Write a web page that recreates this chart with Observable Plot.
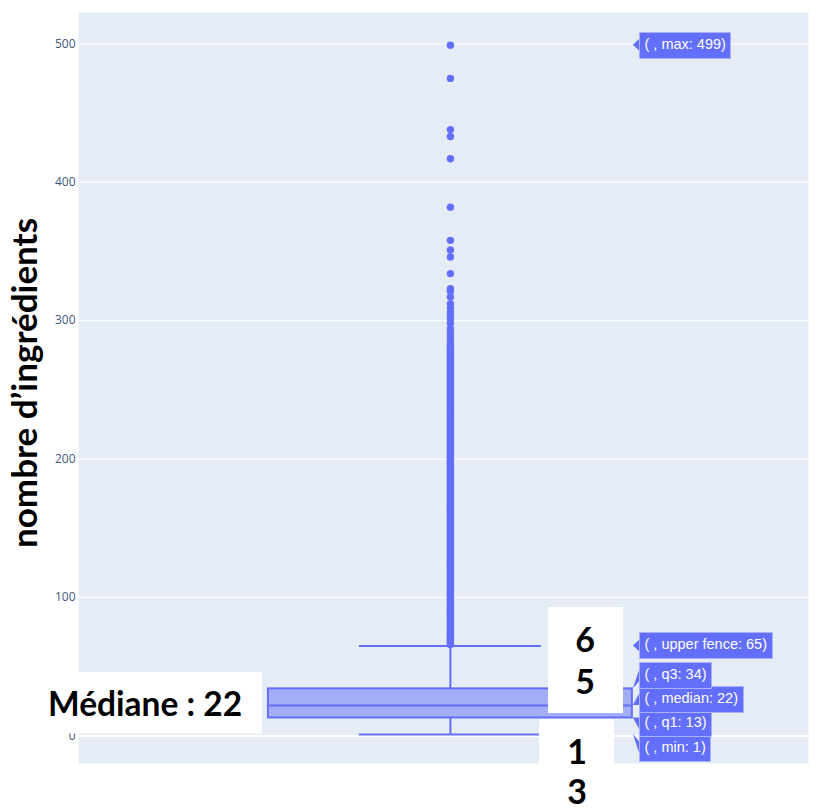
<!DOCTYPE html>
<html><head><meta charset="utf-8">
<script src="https://cdn.jsdelivr.net/npm/d3@7"></script>
<script src="https://cdn.jsdelivr.net/npm/@observablehq/plot@0.6"></script>
<style>
body{margin:0;background:#fff;}
#chart{position:relative;width:817px;height:811px;}
g[aria-label="tip"] text{fill:#fff;stroke:none;font-size:14.5px;}
</style></head><body><div id="chart"></div>
<script>
// ---- data ----
const statNames = ["min", "q1", "median", "q3", "upper fence", "max"];
const statValues = [1, 13, 22, 34, 65, 499];
const outliers = [
  66,67,68,69,70,71,72,73,74,75,76,77,78,79,80,81,82,83,84,85,
  86,87,88,89,90,91,92,93,94,95,96,97,98,99,100,101,102,103,104,105,
  106,107,108,109,110,111,112,113,114,115,116,117,118,119,120,121,122,123,124,125,
  126,127,128,129,130,131,132,133,134,135,136,137,138,139,140,141,142,143,144,145,
  146,147,148,149,150,151,152,153,154,155,156,157,158,159,160,161,162,163,164,165,
  166,167,168,169,170,171,172,173,174,175,176,177,178,179,180,181,182,183,184,185,
  186,187,188,189,190,191,192,193,194,195,196,197,198,199,200,201,202,203,204,205,
  206,207,208,209,210,211,212,213,214,215,216,217,218,219,220,221,222,223,224,225,
  226,227,228,229,230,231,232,233,234,235,236,237,238,239,240,241,242,243,244,245,
  246,247,248,249,250,251,252,253,254,255,256,257,258,259,260,261,262,263,264,265,
  266,267,268,269,270,271,272,273,274,275,276,277,278,279,280,281,282,
  284,286,289,292,294,298,301,303,306,309,312,317,321,323,334,346,351,358,382,417,433,438,475,499
];
const yTicks = [0, 100, 200, 300, 400, 500];
const yTitle = "nombre d’ingrédients";
const medianNote = "Médiane : 22";
const fenceNote = ["6", "5"];
const q1Note = ["1", "3"];

// ---- layout ----
const W = 817, H = 811;
const mL = 78, mR = 9, mT = 12, mB = 48;
const yDomain = [-19.9, 522.6];
const xDomain = [-0.511, 0.492];
const boxHalf = 0.25, capHalf = 0.125;
const blue = "#636efa";
const ppu = (H - mT - mB) / (yDomain[1] - yDomain[0]);
const ppx = (W - mL - mR) / (xDomain[1] - xDomain[0]);
const labelStep = 24.3 / ppu;

const stat = Object.fromEntries(statNames.map((n, i) => [n, statValues[i]]));

// dodge hover-label positions like Plotly does
function dodge(vals, step) {
  let groups = vals.map((v, i) => ({items: [i], center: v})).sort((a, b) => b.center - a.center);
  let merged = true;
  while (merged) {
    merged = false;
    for (let i = 0; i < groups.length - 1; i++) {
      const a = groups[i], b = groups[i + 1];
      const aBottom = a.center - (a.items.length - 1) / 2 * step;
      const bTop = b.center + (b.items.length - 1) / 2 * step;
      if (aBottom - bTop < step) {
        const items = [...a.items, ...b.items].sort((p, q) => vals[q] - vals[p]);
        groups.splice(i, 2, {items, center: d3.mean(items, k => vals[k])});
        merged = true;
        break;
      }
    }
  }
  const pos = new Array(vals.length);
  for (const g of groups) g.items.forEach((k, j) => pos[k] = g.center + ((g.items.length - 1) / 2 - j) * step);
  return pos;
}
const labelY = dodge(statValues, labelStep);
const tipX = boxHalf + 1 / ppx, baseX = boxHalf + 7 / ppx;
const labels = statNames.map((n, i) => ({name: n, value: statValues[i], y: labelY[i], text: `( , ${n}: ${statValues[i]})`}));
const arrows = labels.flatMap(l => [
  {name: l.name, x: tipX, y1: l.value, y2: l.value},
  {name: l.name, x: baseX + 0.5 / ppx, y1: l.y - 6 / ppu, y2: l.y + 6 / ppu}
]);
const whiskers = [{y1: stat.q3, y2: stat["upper fence"]}, {y1: stat.min, y2: stat.q1}];

const plot = Plot.plot({
  width: W, height: H,
  marginLeft: mL, marginRight: mR, marginTop: mT, marginBottom: mB,
  style: {fontFamily: "'Open Sans', sans-serif", background: "transparent"},
  x: {domain: xDomain, axis: null},
  y: {domain: yDomain, axis: null},
  marks: [
    Plot.frame({fill: "#e5ecf6", stroke: null}),
    Plot.gridY(yTicks.filter(d => d !== 0), {stroke: "#fff", strokeOpacity: 1, strokeWidth: 1}),
    Plot.ruleY([0], {stroke: "#fff", strokeWidth: 2}),
    Plot.axisY(yTicks, {tickSize: 0, tickPadding: 3, fontSize: 12, fill: "#44587a", label: null}),
    Plot.ruleX(whiskers, {x: () => 0, y1: "y1", y2: "y2", stroke: blue, strokeWidth: 2}),
    Plot.ruleY([stat["upper fence"], stat.min], {x1: () => -capHalf, x2: () => capHalf, y: d => d, stroke: blue, strokeWidth: 2}),
    Plot.rect([stat], {x1: () => -boxHalf, x2: () => boxHalf, y1: "q1", y2: "q3", fill: blue, fillOpacity: 0.5, stroke: blue, strokeWidth: 2}),
    Plot.ruleY([stat.median], {x1: () => -boxHalf, x2: () => boxHalf, y: d => d, stroke: blue, strokeWidth: 2}),
    Plot.dot(outliers, {x: () => 0, y: d => d, r: 3.7, fill: blue, stroke: null}),
    Plot.areaY(arrows, {x: "x", y1: "y1", y2: "y2", z: "name", fill: blue}),
    Plot.tip(labels, {x: () => baseX, y: "y", title: "text", anchor: "left", pointerSize: 0,
      fill: blue, stroke: "#aab1fc", strokeWidth: 1, fontSize: 14.5, textPadding: 5,
      fontFamily: "'Liberation Sans', Arial, sans-serif", pathFilter: "none"})
  ]
});
document.getElementById("chart").appendChild(plot);

// ---- slide overlays (white boxes with bold notes) ----
const svg = d3.select(plot);
const ov = svg.append("g").attr("font-family", "Lato, 'Open Sans', sans-serif").attr("font-weight", "bold")
  .attr("fill", "#000").attr("text-anchor", "start");
ov.append("text").attr("transform", "translate(37,383) rotate(-90)").attr("text-anchor", "middle")
  .attr("font-size", 35).text(yTitle);
ov.append("rect").attr("x", 40).attr("y", 672).attr("width", 222).attr("height", 61.5).attr("fill", "#fff");
ov.append("text").attr("x", 48).attr("y", 716).attr("font-size", 33.5).attr("text-anchor", "start").text(medianNote);
ov.append("rect").attr("x", 548).attr("y", 607).attr("width", 75).attr("height", 106).attr("fill", "#fff");
fenceNote.forEach((t, i) => ov.append("text").attr("x", 585).attr("y", 652 + i * 42).attr("text-anchor", "middle").attr("font-size", 34).text(t));
ov.append("rect").attr("x", 539).attr("y", 719).attr("width", 75).attr("height", 92).attr("fill", "#fff");
q1Note.forEach((t, i) => ov.append("text").attr("x", 577).attr("y", 764 + i * 40).attr("text-anchor", "middle").attr("font-size", 34).text(t));
</script></body></html>
